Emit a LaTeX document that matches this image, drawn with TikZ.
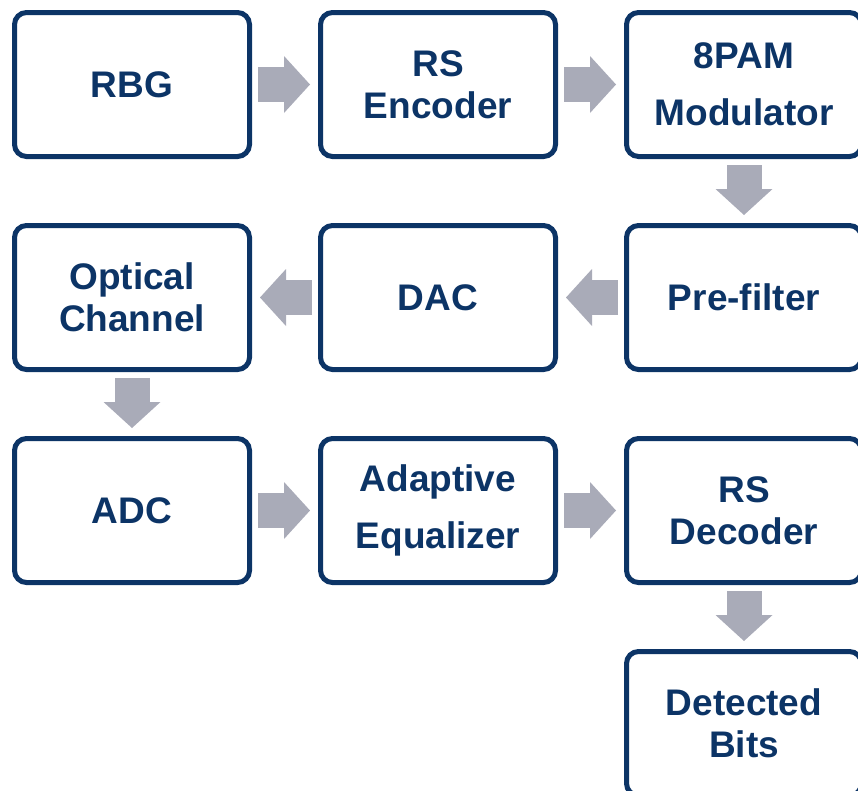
\documentclass[tikz,border=0pt]{standalone}
\usepackage{fontspec}
\setmainfont{Liberation Sans}
\usetikzlibrary{positioning,arrows.meta}
\definecolor{boxblue}{RGB}{12,52,102}
\definecolor{arrowgray}{RGB}{169,171,184}
\tikzset{
  block/.style={draw=boxblue, line width=5pt, rounded corners=12pt, fill=white,
    minimum width=235pt, minimum height=144pt, align=center, text=boxblue,
    font=\fontsize{37}{42}\selectfont\bfseries},
  bigarrow/.style={draw=arrowgray, line width=35pt, shorten <=6pt, shorten >=8pt,
    -{Triangle[length=26pt 0 0, width=57pt 0 0, line width=0pt]}}
}
\begin{document}
\begin{tikzpicture}[x=1pt,y=1pt]
\useasboundingbox (0,0) rectangle (858,-790);

\node[block] (rbg) at (132,-84.5) {RBG};
\node[block, right=66pt of rbg] (rsenc) {RS\\Encoder};
\node[block, right=66pt of rsenc] (mod) {8PAM\\[15pt]Modulator};

\node[block, below=64pt of mod] (pre) {Pre-filter};
\node[block, left=66pt of pre] (dac) {DAC};
\node[block, left=66pt of dac] (optch) {Optical\\Channel};

\node[block, below=64pt of optch] (adc) {ADC};
\node[block, right=66pt of adc] (adeq) {Adaptive\\[15pt]Equalizer};
\node[block, right=66pt of adeq] (rsdec) {RS\\Decoder};
\node[block, below=64pt of rsdec] (bits) {Detected\\Bits};

\draw[bigarrow] (rbg) -- (rsenc);
\draw[bigarrow] (rsenc) -- (mod);
\draw[bigarrow] (mod) -- (pre);
\draw[bigarrow] (pre) -- (dac);
\draw[bigarrow] (dac) -- (optch);
\draw[bigarrow] (optch) -- (adc);
\draw[bigarrow] (adc) -- (adeq);
\draw[bigarrow] (adeq) -- (rsdec);
\draw[bigarrow] (rsdec) -- (bits);
\end{tikzpicture}
\end{document}
